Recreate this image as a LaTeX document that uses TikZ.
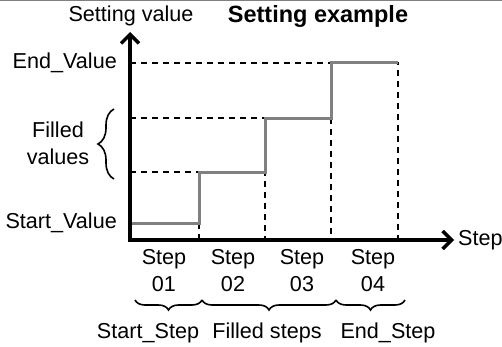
\documentclass[tikz,border=0pt]{standalone}
\usepackage{fontspec}
\setmainfont{Liberation Sans}
\usetikzlibrary{arrows.meta,decorations.pathreplacing}
\begin{document}
\begin{tikzpicture}[x=1pt,y=1pt,
  lbl/.style={inner sep=0pt,font=\fontsize{21.6}{27}\selectfont,align=center},
  axis/.style={line width=3.5pt,-{Straight Barb[length=9pt,width=18pt,line width=3.5pt]}},
  stair/.style={line width=3pt,draw={rgb,255:red,128;green,128;blue,128}},
  guide/.style={line width=1.8pt,dash pattern=on 6pt off 5pt},
  brc/.style={line width=1.6pt,decorate,decoration={brace,amplitude=10pt}}]
\useasboundingbox (0,0) rectangle (502,346);
\draw[line width=1.5pt,draw={rgb,255:red,128;green,128;blue,128}] (0,345.5) -- (502,345.5);
% coordinates
\coordinate (O) at (130,106);
\coordinate (Ytip) at (130,314);
\coordinate (Xtip) at (454,106);
\coordinate (s0) at (131,123);
\coordinate (s1a) at (199,123);
\coordinate (s1b) at (199,174);
\coordinate (s2a) at (265,174);
\coordinate (s2b) at (265,228);
\coordinate (s3a) at (331,228);
\coordinate (s3b) at (331,283);
\coordinate (s4) at (398,283);
\coordinate (b1) at (199,106);
\coordinate (b2) at (265,106);
\coordinate (b3) at (331,106);
\coordinate (b4) at (398,106);
\coordinate (yEnd) at (130,283);
\coordinate (yF2) at (130,228);
\coordinate (yF1) at (130,174);
% guides
\draw[guide] (yEnd) -- (s4) -- (b4);
\draw[guide] (yF2) -- (s2b) -- (b2);
\draw[guide] (yF1) -- (s1b);
\draw[guide] (s3a) -- (b3);
\draw[guide] (s1a) -- (b1);
% staircase
\draw[stair] (s0) -- (s1a) -- (s1b) -- (s2a) -- (s2b) -- (s3a) -- (s3b) -- (s4);
% axes
\draw[axis] ([xshift=-1.75pt]O) -- (Xtip);
\draw[axis] ([yshift=-1.75pt]O) -- (Ytip);
% labels
\node[lbl] (ylab) at (131,330) {Setting value};
\node[lbl,font=\fontsize{23.5}{27}\selectfont\bfseries] (title) at (318,330) {Setting example};
\node[lbl,anchor=east] (endv) at (117,283) {End\_Value};
\node[lbl,anchor=east] (startv) at (117,123) {Start\_Value};
\node[lbl] (filled) at (58,203) {Filled\\values};
\node[lbl,anchor=west] (xlab) at (458,106) {Step};
\node[lbl] (st1) at (164,75) {Step\\01};
\node[lbl] (st2) at (233,75) {Step\\02};
\node[lbl] (st3) at (302,75) {Step\\03};
\node[lbl] (st4) at (373,75) {Step\\04};
\node[lbl] (l1) at (148,13) {Start\_Step};
\node[lbl] (l2) at (267,13) {Filled steps};
\node[lbl] (l3) at (388,13) {End\_Step};
% braces
\coordinate (fb1) at (114,167);
\coordinate (fb2) at (114,237);
\draw[brc,decoration={amplitude=16pt}] (fb1) -- (fb2);
\coordinate (c0) at (135,46);
\coordinate (c1) at (202,46);
\coordinate (c2) at (336,46);
\coordinate (c3) at (405,46);
\draw[brc,decoration={mirror}] (c0) -- (c1);
\draw[brc,decoration={mirror}] (c1) -- (c2);
\draw[brc,decoration={mirror}] (c2) -- (c3);
\end{tikzpicture}
\end{document}
